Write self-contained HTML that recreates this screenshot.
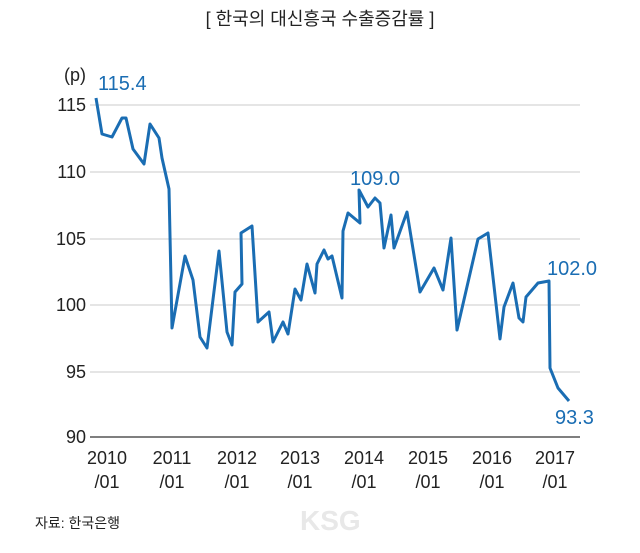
<!DOCTYPE html>
<html><head><meta charset="utf-8"><style>
body{margin:0;background:#fff;}
svg{display:block;font-family:"Liberation Sans","Noto Sans CJK KR",sans-serif;}
</style></head><body>
<svg width="640" height="553" viewBox="0 0 640 553">
<text x="320" y="25" text-anchor="middle" font-size="18" fill="#222">[ 한국의 대신흥국 수출증감률 ]</text>
<g stroke="#d5d5d5" stroke-width="1.2">
<line x1="90" x2="580" y1="105" y2="105"/>
<line x1="90" x2="580" y1="172" y2="172"/>
<line x1="90" x2="580" y1="239" y2="239"/>
<line x1="90" x2="580" y1="305" y2="305"/>
<line x1="90" x2="580" y1="372" y2="372"/>
</g>
<line x1="90" x2="580" y1="437" y2="437" stroke="#555" stroke-width="1.5"/>
<g font-size="18" fill="#222" text-anchor="end">
<text x="86" y="81">(p)</text>
<text x="86" y="111">115</text>
<text x="86" y="178">110</text>
<text x="86" y="245">105</text>
<text x="86" y="311">100</text>
<text x="86" y="378">95</text>
<text x="86" y="443">90</text>
</g>
<g font-size="18" fill="#222" text-anchor="middle">
<text x="107" y="464">2010</text><text x="107" y="488">/01</text>
<text x="172" y="464">2011</text><text x="172" y="488">/01</text>
<text x="237" y="464">2012</text><text x="237" y="488">/01</text>
<text x="300" y="464">2013</text><text x="300" y="488">/01</text>
<text x="364" y="464">2014</text><text x="364" y="488">/01</text>
<text x="428" y="464">2015</text><text x="428" y="488">/01</text>
<text x="492" y="464">2016</text><text x="492" y="488">/01</text>
<text x="555" y="464">2017</text><text x="555" y="488">/01</text>
</g>
<polyline fill="none" stroke="#1a6db3" stroke-width="3" stroke-linejoin="round" points="96,98 102,134 112,137 122,118 126,118 133,149 144,164 150,124 159,138 162,158 169,189 172,328 185,256 193,280 200,337 207,348 219,251 227,332 232,345 235,292 242,284 241,233 252,226 258,322 269,312 273,342 283,322 288,334 295,289 301,300 307,264 315,293 317,264 324,250 328,259 332,256 342,298 343,231 348,213 360,223 359,190 368,207 375,198 380,203 384,248 391,215 394,248 407,212 420,292 434,268 443,290 451,238 457,330 478,239 488,233 500,339 504,307 513,283 519,318 523,322 526,297 538,283 549,281 550,368 558,388 569,401"/>
<g font-size="20" fill="#1a6db3">
<text x="98" y="90">115.4</text>
<text x="350" y="185">109.0</text>
<text x="547" y="275">102.0</text>
<text x="555" y="424">93.3</text>
</g>
<text x="35" y="528" font-size="14" fill="#222">자료: 한국은행</text>
<text x="300" y="530" font-size="28" font-weight="bold" fill="#e8e8e8">KSG</text>
</svg>
</body></html>
